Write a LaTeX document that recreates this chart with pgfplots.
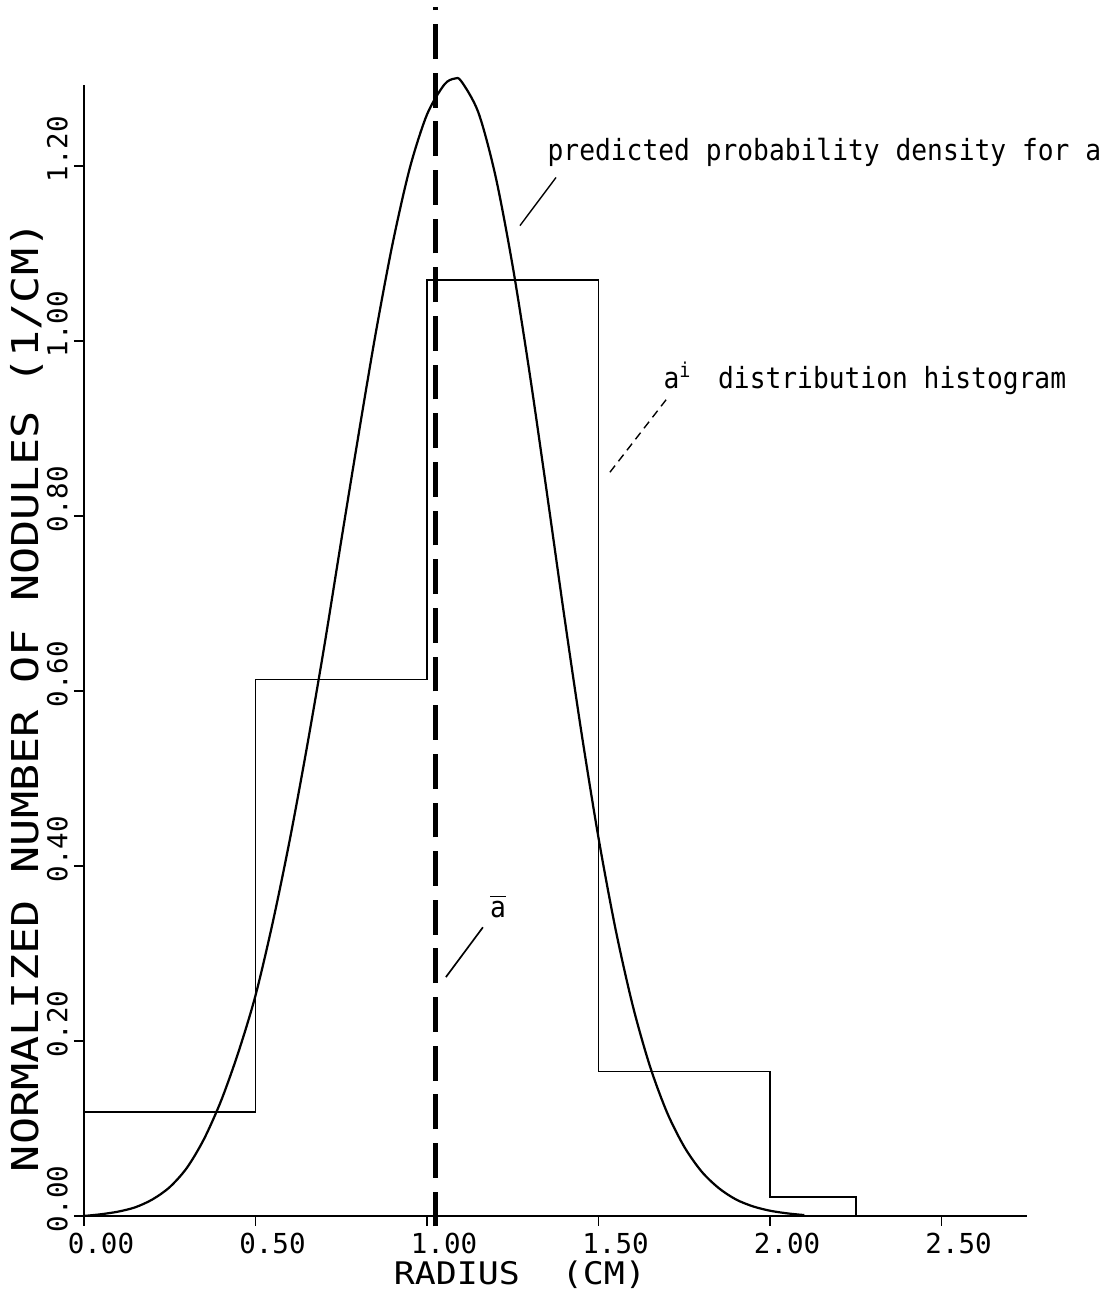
\documentclass[border=0pt]{standalone}
\usepackage{fontspec}
\usepackage{pgfplots}
\pgfplotsset{compat=1.18}
\setmainfont{DejaVu Sans Mono}
\newfontfamily\tickfont{DejaVu Sans Mono}
\newfontfamily\labfont[FakeStretch=1.12]{DejaVu Sans Mono}
\newfontfamily\ylabfont[FakeStretch=1.22]{DejaVu Sans Mono}
\newfontfamily\annfont[FakeStretch=0.9]{DejaVu Sans Mono}

\begin{document}
\begin{tikzpicture}
\begin{axis}[
  anchor=origin, at={(0pt,0pt)},
  x=123.4pt, y=314.7pt,
  xmin=0, xmax=2.75, ymin=0, ymax=1.293,
  axis x line*=bottom, axis y line*=left,
  axis line style={-, line width=0.7pt},
  xtick={0,0.5,1,1.5,2,2.5},
  ytick={0,0.2,0.4,0.6,0.8,1.0,1.2},
  tick align=outside, major tick length=3.6pt,
  tick style={black, line width=0.6pt},
  /pgf/number format/fixed,
  /pgf/number format/fixed zerofill,
  /pgf/number format/precision=2,
  /pgf/number format/assume math mode=true,
  tick label style={font=\tickfont\fontsize{9.9}{12}\selectfont},
  xticklabel style={anchor=north west, inner sep=0pt, xshift=-6pt, yshift=-2.5pt},
  yticklabel style={xshift=-2pt, yshift=-6pt, rotate=90, anchor=south west, inner sep=0pt},
  xlabel={RADIUS\ \ (CM)},
  ylabel={NORMALIZED NUMBER OF NODULES (1/CM)},
  xlabel style={at={(ticklabel cs:0.462)}, anchor=north, inner sep=1pt, yshift=-1pt, font=\labfont\fontsize{11.2}{13}\selectfont},
  ylabel style={at={(ticklabel cs:0.459)}, inner sep=1pt, font=\ylabfont\fontsize{13.3}{15}\selectfont},
  clip=false,
]
% histogram
\addplot[black, line width=0.55pt, mark=none] coordinates {
 (0,0) (0,0.119) (0.5,0.119) (0.5,0.613) (1.0,0.613) (1.0,1.07)
 (1.5,1.07) (1.5,0.165) (2.0,0.165) (2.0,0.022) (2.25,0.022) (2.25,0)
};
% predicted probability density
\addplot[black, line width=0.8pt, mark=none, smooth] coordinates {
 (0.00,0.000) (0.05,0.002) (0.10,0.005) (0.15,0.010) (0.20,0.019)
 (0.25,0.033) (0.30,0.055) (0.35,0.088) (0.40,0.132) (0.45,0.187)
 (0.50,0.252) (0.55,0.335) (0.60,0.430) (0.65,0.536) (0.70,0.650)
 (0.75,0.772) (0.80,0.892) (0.85,1.008) (0.90,1.112) (0.95,1.198)
 (1.00,1.259) (1.05,1.293) (1.08,1.300) (1.10,1.297) (1.15,1.261)
 (1.20,1.188) (1.25,1.085) (1.30,0.961) (1.35,0.825) (1.40,0.686)
 (1.45,0.553) (1.50,0.432) (1.55,0.327) (1.60,0.240) (1.65,0.171)
 (1.70,0.118) (1.75,0.079) (1.80,0.051) (1.85,0.032) (1.90,0.019)
 (1.95,0.011) (2.00,0.006) (2.05,0.003) (2.10,0.001)
};
% mean line
\addplot[black, line width=1.8pt, dash pattern=on 12.5pt off 5pt, mark=none] coordinates {(1.025,-0.012) (1.025,1.382)};
% leader lines
\addplot[black, line width=0.5pt, mark=none] coordinates {(1.376,1.187) (1.271,1.132)};
\addplot[black, line width=0.5pt, densely dashed, mark=none] coordinates {(1.697,0.933) (1.531,0.849)};
\addplot[black, line width=0.6pt, mark=none] coordinates {(1.163,0.330) (1.055,0.273)};
% annotations
\node[anchor=base west, inner sep=0pt, font=\annfont\fontsize{10.5}{12}\selectfont] at (axis cs:1.35,1.206) {predicted probability density for a};
\node[anchor=base west, inner sep=0pt, font=\annfont\fontsize{10.5}{12}\selectfont] at (axis cs:1.688,0.946) {a\textsuperscript{i}\hspace{0.9em}distribution histogram};
\node[anchor=center, inner sep=0pt, font=\annfont\fontsize{10.5}{12}\selectfont] at (axis cs:1.207,0.354) {$\overline{\mbox{\annfont\fontsize{10.5}{12}\selectfont a}}$};
\end{axis}
\path[use as bounding box] (-30.2pt,-31.3pt) rectangle (369.8pt,437.4pt);
\end{tikzpicture}
\end{document}
